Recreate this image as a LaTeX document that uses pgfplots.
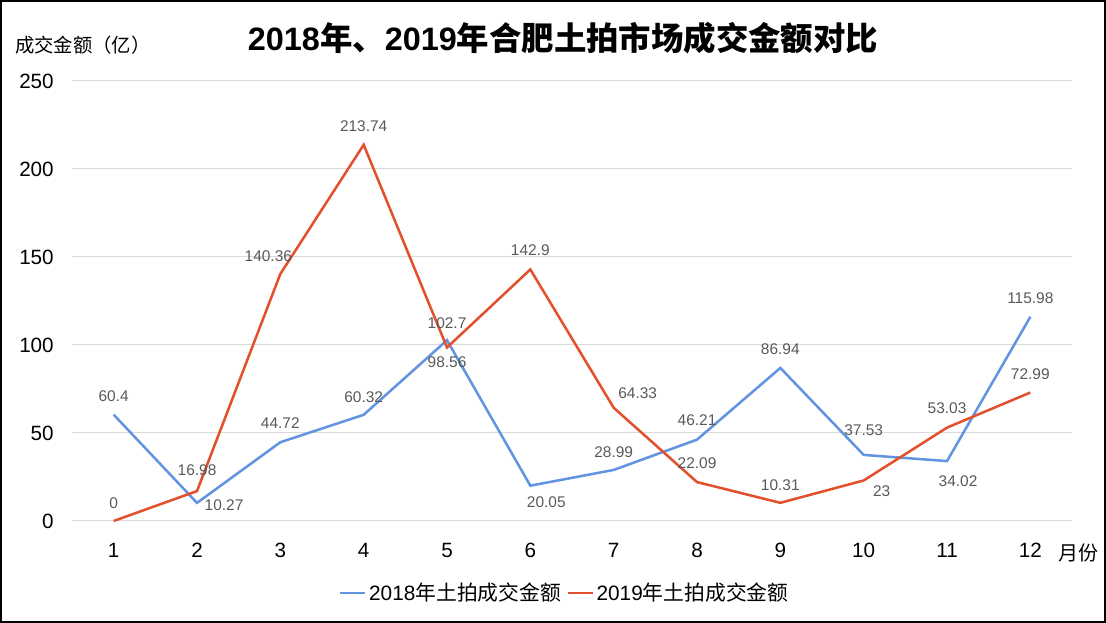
\documentclass[border=0pt]{standalone}
\usepackage{fontspec}
\setmainfont{Liberation Sans}
\newfontfamily\cjk{Noto Sans CJK SC}
\usepackage{pgfplots}
\pgfplotsset{compat=1.18}
\usepackage{pgfplotstable}

\definecolor{s2018}{RGB}{98,148,226}
\definecolor{s2019}{RGB}{226,80,46}
\definecolor{lbl}{RGB}{89,89,89}
\definecolor{gridc}{RGB}{217,217,217}

% month, value, label text, label offset (px) from the point
\pgfplotstableread{
x y lab dx dy
1 60.4 60.4 0 18
2 10.27 10.27 27 -2
3 44.72 44.72 0 19
4 60.32 60.32 0 18
5 102.7 102.7 0 17
6 20.05 20.05 16 -16
7 28.99 28.99 0 18
8 46.21 46.21 0 19
9 86.94 86.94 0 19
10 37.53 37.53 0 25
11 34.02 34.02 11 -20
12 115.98 115.98 0 19
}\yeara

\pgfplotstableread{
x y lab dx dy
1 0 0 0 18
2 16.98 16.98 0 21
3 140.36 140.36 -12 18
4 213.74 213.74 0 19
5 98.56 98.56 0 -15
6 142.9 142.9 0 19
7 64.33 64.33 24 15
8 22.09 22.09 0 19
9 10.31 10.31 0 18
10 23 23 18 -11
11 53.03 53.03 0 19
12 72.99 72.99 0 18
}\yearb

\pgfplotsset{
    labelled/.style={
        draw=none, mark=none, forget plot,
        point meta=explicit symbolic,
        nodes near coords={\pgfplotspointmeta},
        visualization depends on={\thisrow{dx} \as \dx},
        visualization depends on={\thisrow{dy} \as \dy},
        nodes near coords style={anchor=center, inner sep=0pt, text=lbl,
            font=\fontsize{11.6}{13}\selectfont,
            xshift=0.75*\dx pt, yshift=0.75*\dy pt},
    },
}

\begin{document}
\begin{tikzpicture}
\begin{axis}[
    at={(0,0)}, anchor=south west,
    scale only axis,
    width=750pt, height=330pt,
    xmin=0.5, xmax=12.5, ymin=0, ymax=250,
    xtick={1,2,3,4,5,6,7,8,9,10,11,12},
    ytick={0,50,100,150,200,250},
    ymajorgrids, grid style={gridc, line width=0.8pt},
    axis line style={draw=none},
    major tick length=0pt,
    /pgf/number format/assume math mode=true,
    tick label style={font=\fontsize{15.5}{18}\selectfont, inner sep=0pt, text=black},
    xticklabel style={anchor=north, yshift=-16.5pt},
    yticklabel style={anchor=east, xshift=-13.5pt},
    clip=false,
    legend style={at={(axis description cs:0.493,-0.164)}, anchor=center,
        draw=none, fill=none, font=\fontsize{15.6}{18}\selectfont,
        /tikz/every even column/.append style={column sep=2pt}},
    legend columns=2,
    legend image code/.code={\draw[#1] (0cm,0cm) -- (0.66cm,0cm);},
]
\addplot[s2018, line width=1.9pt, mark=none] table[x=x, y=y] {\yeara};
\addlegendentry{2018{\cjk 年土拍成交金额}}
\addplot[s2019, line width=1.9pt, mark=none] table[x=x, y=y] {\yearb};
\addlegendentry{2019{\cjk 年土拍成交金额}}
\addplot[labelled] table[x=x, y=y, meta=lab] {\yeara};
\addplot[labelled] table[x=x, y=y, meta=lab] {\yearb};

\node[font=\fontsize{24.3}{28}\selectfont\bfseries, anchor=center]
    at (axis description cs:0.491,1.0977) {2018{\cjk 年、}2019{\cjk 年合肥土拍市场成交金额对比}};
\node[font=\fontsize{14.5}{17}\selectfont\cjk, anchor=west, inner sep=0pt]
    at (axis description cs:-0.057,1.082) {成交金额（亿）};
\node[font=\fontsize{15}{18}\selectfont\cjk, anchor=center, inner sep=0pt]
    at (axis description cs:1.006,-0.0727) {月份};

\coordinate (bl) at (axis description cs:-0.072,-0.2318);
\coordinate (tr) at (axis description cs:1.034,1.184);
\end{axis}
\draw[line width=1.8pt, black] ([shift={(0.9pt,0.9pt)}]bl) rectangle ([shift={(-0.9pt,-0.9pt)}]tr);
\end{tikzpicture}
\end{document}
